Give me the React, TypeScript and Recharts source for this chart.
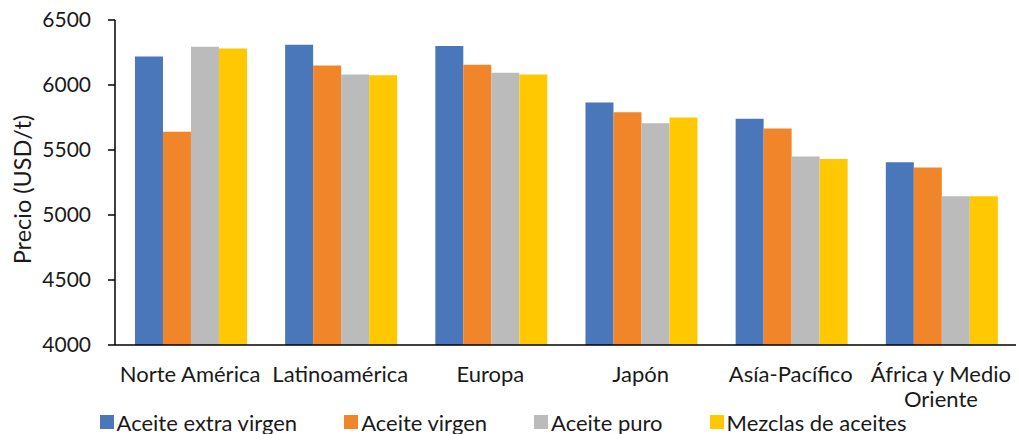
import React from 'react';
import { BarChart, Bar, XAxis, YAxis, Legend, Text } from 'recharts';

const categories = ['Norte América', 'Latinoamérica', 'Europa', 'Japón', 'Asía-Pacífico', 'África y Medio Oriente'];
const extraVirgen = [6220, 6310, 6300, 5865, 5740, 5405];
const virgen = [5640, 6150, 6155, 5790, 5665, 5365];
const puro = [6295, 6080, 6095, 5705, 5450, 5145];
const mezclas = [6280, 6075, 6080, 5750, 5430, 5145];
const yTicks = [4000, 4500, 5000, 5500, 6000, 6500];
const yLabel = 'Precio (USD/t)';

const seriesNames = ['Aceite extra virgen', 'Aceite virgen', 'Aceite puro', 'Mezclas de aceites'];
const seriesKeys = ['ev', 'v', 'p', 'm'];
const colors = ['#4A76BA', '#F0852A', '#BBBBBB', '#FFC800'];

const data = categories.map((c, i) => ({
  name: c,
  ev: extraVirgen[i],
  v: virgen[i],
  p: puro[i],
  m: mezclas[i],
}));

const FONT = 'Lato, sans-serif';

const XTick = (props: any) => {
  const { x, y, payload } = props;
  return (
    <Text
      x={x}
      y={y}
      width={150}
      textAnchor="middle"
      verticalAnchor="start"
      lineHeight="25px"
      style={{ fontFamily: FONT, fontSize: 22, fill: '#1a1a1a' }}
    >
      {payload.value}
    </Text>
  );
};

const YLabel = (props: any) => {
  const vb = props.viewBox || { y: 20, height: 325 };
  const cx = 31;
  const cy = vb.y + vb.height / 2 + 7;
  return (
    <text
      x={cx}
      y={cy}
      transform={`rotate(-90 ${cx} ${cy})`}
      textAnchor="middle"
      style={{ fontFamily: FONT, fontSize: 23.5, fill: '#1a1a1a' }}
    >
      {yLabel}
    </text>
  );
};

const LegendContent = () => (
  <div style={{ display: 'flex', justifyContent: 'center', alignItems: 'center', height: 24, fontFamily: FONT, fontSize: 22, color: '#1a1a1a', paddingRight: 10 }}>
    {seriesNames.map((n, i) => (
      <div key={n} style={{ display: 'flex', alignItems: 'center', marginRight: i < seriesNames.length - 1 ? 47 : 0 }}>
        <span style={{ display: 'inline-block', width: 14, height: 14, background: colors[i], marginRight: 3 }} />
        <span>{n}</span>
      </div>
    ))}
  </div>
);

export default function App() {
  return (
    <div style={{ position: 'absolute', left: 0, top: 0, width: 1018, height: 434, background: '#fff' }}>
      <BarChart
        width={1018}
        height={434}
        data={data}
        margin={{ top: 20, right: 2, bottom: 0, left: 0 }}
        barCategoryGap="13.3%"
        barGap={0}
      >
        <XAxis
          dataKey="name"
          tickLine={false}
          tickSize={0}
          tickMargin={21}
          height={65}
          interval={0}
          axisLine={{ stroke: '#000', strokeWidth: 1.5 }}
          tick={<XTick />}
        />
        <YAxis
          width={115}
          domain={[4000, 6500]}
          ticks={yTicks}
          interval={0}
          tickSize={7}
          tickMargin={17}
          axisLine={{ stroke: '#000', strokeWidth: 1.5 }}
          tickLine={{ stroke: '#000', strokeWidth: 1.5 }}
          tick={{ fontFamily: FONT, fontSize: 21, fill: '#1a1a1a' }}
          label={<YLabel />}
        />
        <Legend verticalAlign="bottom" height={24} content={<LegendContent />} />
        {seriesKeys.map((k, i) => (
          <Bar key={k} dataKey={k} name={seriesNames[i]} fill={colors[i]} isAnimationActive={false} />
        ))}
      </BarChart>
    </div>
  );
}
